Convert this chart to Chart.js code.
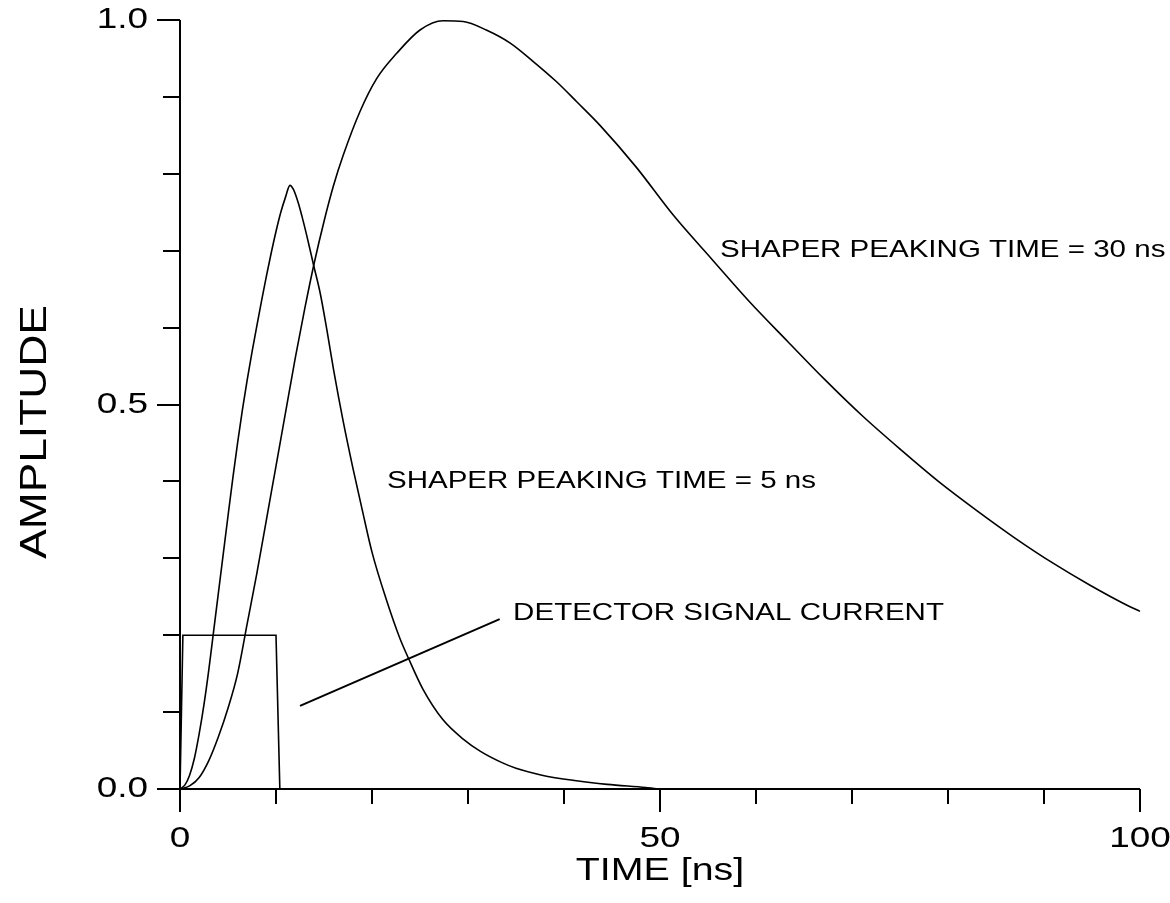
<!DOCTYPE html>
<html>
<head>
<meta charset="utf-8">
<script src="https://cdn.jsdelivr.net/npm/chart.js@4.4.1/dist/chart.umd.min.js"></script>
<style>
  html, body { margin: 0; padding: 0; background: #fff; }
  #chart { display: block; }
</style>
</head>
<body>
<canvas id="chart" width="1170" height="903"></canvas>
<script>
// detector current pulse
var pulseTime = [0, 0.3, 10, 10.4];
var pulseAmp = [0, 0.2, 0.2, 0];

// shaper, 5 ns peaking time
var shaper5Time = [0, 0.5, 1, 1.5, 2, 2.5, 3, 3.5, 4, 4.5, 5, 5.5, 6, 6.5, 7, 7.5, 8, 8.5, 9, 9.5, 10, 10.5, 11, 11.45, 11.8, 12.3, 12.7, 13.2, 13.9, 14.6, 15.3, 16, 17, 18, 19, 20, 21.5, 22.9, 23.8, 25.3, 27.4, 29.5, 31.3, 33.6, 35, 37.7, 41.1, 44.5, 48.5, 50, 100];
var shaper5Amp = [0, 0.005, 0.018, 0.04, 0.072, 0.11, 0.155, 0.205, 0.255, 0.305, 0.355, 0.404, 0.45, 0.493, 0.532, 0.568, 0.602, 0.635, 0.667, 0.697, 0.725, 0.75, 0.77, 0.785, 0.78, 0.763, 0.745, 0.72, 0.682, 0.645, 0.597, 0.545, 0.478, 0.418, 0.362, 0.308, 0.246, 0.196, 0.17, 0.13, 0.09, 0.065, 0.049, 0.034, 0.027, 0.018, 0.011, 0.006, 0.002, 0, 0];

// shaper, 30 ns peaking time
var shaper30Time = [0, 1, 2, 3, 4, 5, 6, 7, 8, 9, 10, 11, 12, 13, 14, 15, 16, 17, 18.75, 20.5, 22.6, 25, 27.4, 29.5, 31.9, 34.4, 36.8, 39.2, 41.3, 43.75, 47.5, 51.4, 55.4, 59.3, 63.3, 67.2, 71.1, 75.1, 79, 83, 86.9, 90.9, 94.8, 98.8, 100];
var shaper30Amp = [0, 0.004, 0.015, 0.037, 0.068, 0.105, 0.15, 0.215, 0.28, 0.35, 0.42, 0.49, 0.56, 0.625, 0.685, 0.738, 0.785, 0.824, 0.881, 0.924, 0.957, 0.987, 0.999, 0.998, 0.987, 0.97, 0.946, 0.92, 0.894, 0.863, 0.809, 0.746, 0.689, 0.634, 0.582, 0.532, 0.485, 0.441, 0.4, 0.362, 0.327, 0.294, 0.265, 0.238, 0.231];

// pointer from the detector label to the pulse
var pointerTime = [12.5, 33.3];
var pointerAmp = [0.108, 0.221];

// axes
var xTicks = [0, 10, 20, 30, 40, 50, 60, 70, 80, 90, 100];
var xTickLabels = ['0', '50', '100'];
var xLabelValues = [0, 50, 100];
var yTicks = [0, 0.1, 0.2, 0.3, 0.4, 0.5, 0.6, 0.7, 0.8, 0.9, 1.0];
var yTickLabels = ['0.0', '0.5', '1.0'];
var yLabelValues = [0, 0.5, 1.0];

var notes = [
    { text: 'SHAPER PEAKING TIME = 30 ns', t: 56.25, a: 0.701 },
    { text: 'SHAPER PEAKING TIME = 5 ns', t: 21.56, a: 0.4 },
    { text: 'DETECTOR SIGNAL CURRENT', t: 34.7, a: 0.229 }
];

function toPoints(xs, ys) {
    return xs.map(function (x, i) { return { x: x, y: ys[i] }; });
}

var FONT = '"Liberation Sans", Arial, sans-serif';
var WIDE = 1.23; // the old plot's lettering is wider than Arial

// text stretched along its baseline
function wideText(ctx, str, x, y, align, size, angle) {
    ctx.save();
    ctx.translate(x, y);
    if (angle) ctx.rotate(angle);
    ctx.scale(WIDE, 1);
    ctx.font = size + 'px ' + FONT;
    ctx.textAlign = align;
    ctx.textBaseline = 'middle';
    ctx.fillText(str, 0, 0);
    ctx.restore();
}

var axesPlugin = {
    id: 'oldAxes',
    afterDatasetsDraw: function (chart) {
        var ctx = chart.ctx;
        var xs = chart.scales.x, ys = chart.scales.y;
        var x0 = xs.getPixelForValue(0), y0 = ys.getPixelForValue(0);
        ctx.save();
        ctx.strokeStyle = '#000';
        ctx.fillStyle = '#000';
        ctx.lineWidth = 2;

        ctx.beginPath();
        ctx.moveTo(x0, ys.getPixelForValue(1));
        ctx.lineTo(x0, y0);
        ctx.lineTo(xs.getPixelForValue(100), y0);
        ctx.stroke();

        ctx.beginPath();
        yTicks.forEach(function (v) {
            var len = yLabelValues.indexOf(v) >= 0 ? 23 : 17;
            var p = Math.round(ys.getPixelForValue(v));
            ctx.moveTo(x0 - len, p);
            ctx.lineTo(x0, p);
        });
        xTicks.forEach(function (v) {
            var len = xLabelValues.indexOf(v) >= 0 ? 23 : 15;
            var p = Math.round(xs.getPixelForValue(v));
            ctx.moveTo(p, y0);
            ctx.lineTo(p, y0 + len);
        });
        ctx.stroke();

        yLabelValues.forEach(function (v, i) {
            wideText(ctx, yTickLabels[i], x0 - 32, ys.getPixelForValue(v), 'right', 30);
        });
        xLabelValues.forEach(function (v, i) {
            wideText(ctx, xTickLabels[i], xs.getPixelForValue(v), y0 + 50, 'center', 30);
        });

        wideText(ctx, 'TIME [ns]', (x0 + xs.getPixelForValue(100)) / 2, y0 + 82, 'center', 32);
        wideText(ctx, 'AMPLITUDE', 36, 432, 'center', 36, -Math.PI / 2);

        notes.forEach(function (n) {
            wideText(ctx, n.text, xs.getPixelForValue(n.t), ys.getPixelForValue(n.a), 'left', 24);
        });
        ctx.restore();
    }
};

function lineSet(data, smooth) {
    return {
        data: data,
        borderColor: '#000',
        borderWidth: 1.6,
        pointRadius: 0,
        fill: false,
        tension: smooth ? 0.4 : 0,
        cubicInterpolationMode: smooth ? 'monotone' : 'default',
        clip: 6
    };
}

new Chart(document.getElementById('chart').getContext('2d'), {
    type: 'line',
    data: {
        datasets: [
            lineSet(toPoints(pulseTime, pulseAmp), false),
            lineSet(toPoints(shaper5Time, shaper5Amp), true),
            lineSet(toPoints(shaper30Time, shaper30Amp), true),
            Object.assign(lineSet(toPoints(pointerTime, pointerAmp), false), { borderWidth: 2 })
        ]
    },
    options: {
        responsive: false,
        animation: false,
        devicePixelRatio: 1,
        layout: { padding: { left: 180, right: 30, top: 20, bottom: 114 } },
        plugins: { legend: { display: false }, tooltip: { enabled: false } },
        scales: {
            x: { type: 'linear', min: 0, max: 100, display: false },
            y: { type: 'linear', min: 0, max: 1, display: false }
        }
    },
    plugins: [axesPlugin]
});
</script>
</body>
</html>
